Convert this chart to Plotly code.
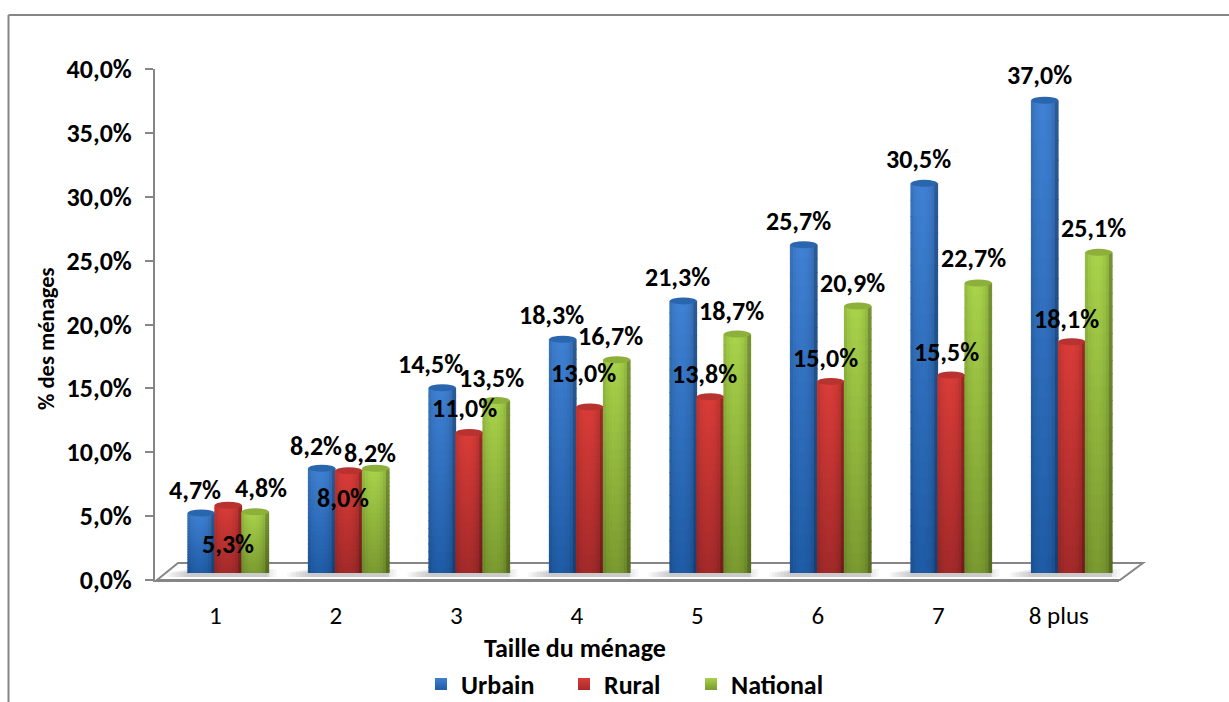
import math
import plotly.graph_objects as go

# ---- data ----
categories = ["1", "2", "3", "4", "5", "6", "7", "8 plus"]
urbain = [4.7, 8.2, 14.5, 18.3, 21.3, 25.7, 30.5, 37.0]
rural = [5.3, 8.0, 11.0, 13.0, 13.8, 15.0, 15.5, 18.1]
national = [4.8, 8.2, 13.5, 16.7, 18.7, 20.9, 22.7, 25.1]
y_ticks = [0, 5, 10, 15, 20, 25, 30, 35, 40]
y_tick_labels = ["0,0%", "5,0%", "10,0%", "15,0%", "20,0%", "25,0%", "30,0%", "35,0%", "40,0%"]
series_names = ["Urbain", "Rural", "National"]

# ---- label offsets from each bar top (px) ----
offs_u = [(-6, 23), (-5.5, 22), (-12, 24), (-11.5, 24), (-6, 24), (-5.5, 24), (-6, 24), (-5.5, 25)]
offs_r = [(0, -39), (-5.5, -27), (-5, 24), (-6.5, 34), (-6, 23), (-5.5, 23), (-5, 23), (-5.5, 23)]
offs_n = [(6, 24), (-5.5, 15), (-5, 23), (-6.5, 24), (-6, 23), (-5.5, 23), (-5, 24.6), (-5.5, 24)]

# ---- style ----
W, H = 1229, 702
FONT = "Carlito, Lato, sans-serif"
GREY = "#868686"
TOPS = ["#3f80d2", "#d93c38", "#a8d24a"]
BOTS = ["#1f5ca6", "#a32a2a", "#7a9a30"]
CAPS = ["#2a66ae", "#b83230", "#8db03a"]
PX = 120.5
PY = (580 - 69) / 40
BAR_PX = 27
N_STRIPS = 9
N_SEG = 24
CAP_D = 3.5 / PY


def mix(a, b, f, shade):
    ca = [int(a[i:i + 2], 16) for i in (1, 3, 5)]
    cb = [int(b[i:i + 2], 16) for i in (1, 3, 5)]
    return "rgb(%d,%d,%d)" % tuple(round((x + (y - x) * f) * shade) for x, y in zip(ca, cb))


def xp(px):
    return px / W


def yp(px):
    return 1 - px / H


fig = go.Figure()
shapes = []
annotations = []
bw = BAR_PX / PX
for s, (vals, offs) in enumerate(zip([urbain, rural, national], [offs_u, offs_r, offs_n])):
    xs, ys, bases, cols = [], [], [], []
    for i, v in enumerate(vals):
        cx = i + (s - 1) * bw
        for k in range(N_STRIPS):
            t = -1 + (2 * k + 1) / N_STRIPS
            sag = CAP_D * math.sqrt(max(0, 1 - t * t))
            shade = 0.70 + 0.30 * math.sqrt(max(0, 1 - min(1, abs(t + 0.12)) ** 2))
            b0 = -sag
            h = (v - b0) / N_SEG
            for j in range(N_SEG):
                xs.append(cx + t * bw / 2)
                # each block reaches 1px into its neighbour so that no seam shows
                bases.append(v - (j + 1) * h - (1 / PY if j < N_SEG - 1 else 0))
                ys.append(h + (1 / PY if j < N_SEG - 1 else 0))
                cols.append(mix(BOTS[s], TOPS[s], 1 - j / (N_SEG - 1), shade))
        shapes.append(dict(type="circle", xref="x2", yref="y2", layer="above",
                           x0=cx - bw / 2, x1=cx + bw / 2, y0=v - CAP_D, y1=v + CAP_D,
                           fillcolor=CAPS[s], line=dict(width=0)))
        annotations.append(dict(xref="x2", yref="y2", x=cx, y=v, xshift=offs[i][0], yshift=offs[i][1],
                                text=f"{v:.1f}".replace(".", ",") + "%", showarrow=False,
                                xanchor="center", yanchor="middle",
                                font=dict(family=FONT, size=26, color="#000000", weight="bold")))
    fig.add_trace(go.Bar(x=xs, y=ys, base=bases, width=(bw / N_STRIPS) * 1.25, xaxis="x2", yaxis="y2",
                         marker=dict(color=cols, line=dict(width=0)), hoverinfo="skip", showlegend=False))

# floor and frame
shapes.insert(0, dict(type="path", xref="paper", yref="paper", layer="below",
                      path=f"M {xp(157)},{yp(580)} L {xp(178)},{yp(563)} L {xp(1143)},{yp(563)} L {xp(1120)},{yp(580)} Z",
                      fillcolor="#ffffff", line=dict(color=GREY, width=2)))
for i in range(len(categories)):
    x_left = 215 + 13 + PX * i - 1.5 * BAR_PX
    for step in range(0, 24, 3):
        shapes.insert(1, dict(type="rect", xref="paper", yref="paper", layer="below",
                              x0=xp(x_left - step), x1=xp(x_left + 3 * BAR_PX + max(0, 8 - step)),
                              y0=yp(577), y1=yp(569 + step / 6),
                              fillcolor="#808080", opacity=0.065, line=dict(width=0)))
shapes.append(dict(type="line", xref="paper", yref="paper", x0=xp(8.5), x1=xp(8.5), y0=yp(15), y1=yp(702),
                   line=dict(color=GREY, width=2)))
shapes.append(dict(type="line", xref="paper", yref="paper", x0=xp(8.5), x1=1, y0=yp(15), y1=yp(15),
                   line=dict(color=GREY, width=2)))

annotations.append(dict(xref="paper", yref="paper", x=xp(575), y=yp(648), text="Taille du ménage", showarrow=False,
                        xanchor="center", yanchor="middle",
                        font=dict(family=FONT, size=26, color="#000000", weight="bold")))
annotations.append(dict(xref="paper", yref="paper", x=xp(46), y=yp(339), text="% des ménages", showarrow=False,
                        xanchor="center", yanchor="middle", textangle=-90,
                        font=dict(family=FONT, size=22.5, color="#000000", weight="bold")))

# legend: one independent legend per series so that each sits where the source has it
legend_ids = ["legend", "legend2", "legend3"]
legend_x = [421, 564, 691]
for s, name in enumerate(series_names):
    fig.add_trace(go.Scatter(x=[None], y=[None], name=name, mode="markers", legend=legend_ids[s],
                             marker=dict(symbol="square", size=18, color=TOPS[s],
                                         gradient=dict(type="vertical", color=BOTS[s])),
                             hoverinfo="skip"))
legends = {}
for s, lid in enumerate(legend_ids):
    legends[lid] = dict(x=xp(legend_x[s]), y=yp(684), xref="container", yref="container",
                        xanchor="left", yanchor="middle", orientation="h",
                        bgcolor="rgba(0,0,0,0)", itemsizing="constant", tracegroupgap=0,
                        font=dict(family=FONT, size=26, color="#000000", weight="bold"))

fig.update_layout(
    width=W, height=H, autosize=False, margin=dict(l=0, r=0, t=0, b=0, autoexpand=False),
    paper_bgcolor="#ffffff", plot_bgcolor="rgba(0,0,0,0)", barmode="overlay",
    shapes=shapes, annotations=annotations, **legends,
    xaxis=dict(domain=[xp(155), xp(155 + 8 * PX)], range=[-0.5, 7.5], tickmode="array",
               tickvals=list(range(len(categories))), ticktext=categories, ticks="", showgrid=False,
               zeroline=False, showline=True, linecolor=GREY, linewidth=2, anchor="y",
               tickfont=dict(family=FONT, size=25, color="#000000"), ticklabelstandoff=12),
    yaxis=dict(domain=[yp(580), yp(69)], range=[0, 40], tickmode="array", tickvals=y_ticks,
               ticktext=y_tick_labels, ticks="outside", ticklen=8, tickwidth=2, tickcolor=GREY,
               showgrid=False, zeroline=False, showline=True, linecolor=GREY, linewidth=2, anchor="x",
               tickfont=dict(family=FONT, size=26, color="#000000", weight="bold"), ticklabelstandoff=8),
    xaxis2=dict(domain=[xp(155 + 13), xp(155 + 13 + 8 * PX)], range=[-0.5, 7.5], visible=False, anchor="y2"),
    yaxis2=dict(domain=[yp(573), yp(62)], range=[0, 40], visible=False, anchor="x2"),
)

fig.write_html("out.html", config=dict(displayModeBar=False),
               post_script="document.body.style.margin='0';document.documentElement.style.overflow='hidden';")
